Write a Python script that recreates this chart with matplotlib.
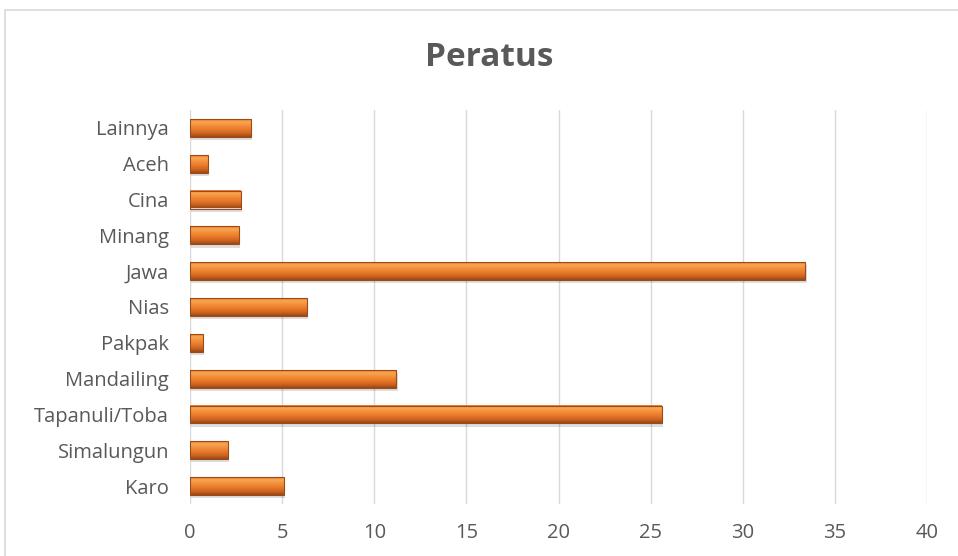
import matplotlib
matplotlib.use("Agg")
import matplotlib.pyplot as plt
import numpy as np
from matplotlib.colors import LinearSegmentedColormap
from matplotlib.patches import Rectangle

categories = ["Karo", "Simalungun", "Tapanuli/Toba", "Mandailing", "Pakpak",
              "Nias", "Jawa", "Minang", "Cina", "Aceh", "Lainnya"]
values = [5.1, 2.05, 25.6, 11.2, 0.7, 6.35, 33.4, 2.65, 2.75, 0.95, 3.3]
x_ticks = [0, 5, 10, 15, 20, 25, 30, 35, 40]
title = "Peratus"

plt.rcParams['font.family'] = ['Open Sans', 'DejaVu Sans']

fig = plt.figure(figsize=(9.58, 5.56), dpi=100)
fig.patch.set_facecolor("white")
# chart frame
fig.patches.append(Rectangle((5/958, -0.1), 1.0, (556-10)/556 + 0.1,
                             transform=fig.transFigure, fill=False,
                             edgecolor="#D9D9D9", linewidth=1.2))

ax = fig.add_axes([190/958, 1-504/556, (927-190)/958, (504-110)/556])
ax.set_xticks(x_ticks)
ax.set_xticklabels([str(t) for t in x_ticks])
ax.set_yticks(range(len(categories)))
ax.set_yticklabels(categories)
ax.tick_params(axis="both", length=0, labelsize=14.5, colors="#595959")
ax.tick_params(axis="x", pad=14)
ax.tick_params(axis="y", pad=15)
for s in ax.spines.values():
    s.set_visible(False)
ax.grid(axis="x", color="#D9D9D9", linewidth=1)
ax.set_axisbelow(True)

cmap = LinearSegmentedColormap.from_list(
    "bev", [(0.0, "#E8772A"), (0.15, "#F9A852"), (0.32, "#F39340"),
            (0.55, "#EC7C2C"), (0.8, "#CC6420"), (1.0, "#9A4818")])
grad = np.linspace(0, 1, 64).reshape(-1, 1)
h = 0.5
for i, v in enumerate(values):
    # shadow
    ax.add_patch(Rectangle((0.08, i - h/2 - 0.09), v, h, facecolor="#000000",
                           alpha=0.13, edgecolor="none", zorder=2))
    ax.imshow(grad, cmap=cmap, aspect="auto",
              extent=(0, v, i - h/2, i + h/2), origin="upper", zorder=3,
              interpolation="bilinear")
    ax.add_patch(Rectangle((0, i - h/2), v, h, facecolor="none",
                           edgecolor="#9E4A18", linewidth=0.8, zorder=4))
ax.set_xlim(0, 40)
ax.set_ylim(-0.5, len(categories) - 0.5)

fig.text(489/958, 1-57/556, title, ha="center", va="center", fontsize=24,
         fontweight="bold", color="#595959")

fig.savefig("out.png", dpi=100)
